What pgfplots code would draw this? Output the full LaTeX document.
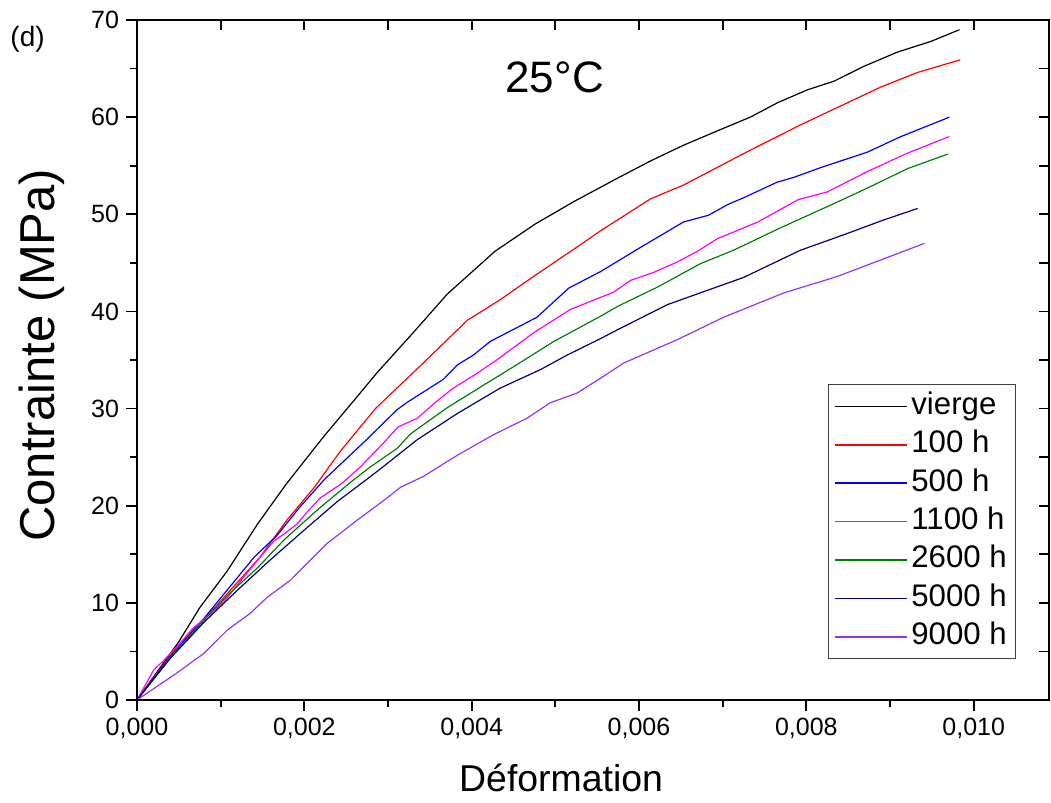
\documentclass[border=0pt]{standalone}
\usepackage{fontspec}
\setmainfont{Liberation Sans}
\usepackage{pgfplots}
\pgfplotsset{compat=1.18}
\usetikzlibrary{calc}

\definecolor{colvierge}{RGB}{0,0,0}
\definecolor{colcent}{RGB}{255,0,0}
\definecolor{colcinq}{RGB}{0,0,255}
\definecolor{colonze}{RGB}{255,0,255}
\definecolor{colvingt}{RGB}{0,128,0}
\definecolor{colmille}{RGB}{0,0,128}
\definecolor{colneuf}{RGB}{150,50,255}

\begin{document}
\begin{tikzpicture}
\begin{axis}[
  name=main,
  scale only axis,
  width=456pt, height=340pt,
  xmin=0, xmax=0.0109, ymin=0, ymax=70,
  xtick={0,0.002,0.004,0.006,0.008,0.010},
  ytick={0,10,20,30,40,50,60,70},
  minor x tick num=1, minor y tick num=1,
  tick align=outside,
  xtick pos=left, ytick pos=left,
  major tick length=5.5pt, minor tick length=3.5pt,
  every tick/.style={black, line width=0.9pt},
  axis line style={line width=1.2pt},
  scaled x ticks=false,
  /pgf/number format/assume math mode=true,
  xticklabel style={/pgf/number format/.cd, fixed, fixed zerofill, precision=3, use comma},
  yticklabel style={/pgf/number format/.cd, fixed, precision=0},
  tick label style={font=\fontsize{12.5}{15}\selectfont},
  xlabel={Déformation},
  ylabel={Contrainte (MPa)},
  xlabel style={font=\fontsize{18.7}{22}\selectfont, at={(axis description cs:0.465,-0.115)}, anchor=center},
  ylabel style={font=\fontsize{24.5}{28}\selectfont, at={(axis description cs:-0.104,0.507)}, anchor=center, rotate=0},
  legend style={at={(axis description cs:0.758,0.465)}, anchor=north west,
    draw=black!75, line width=0.6pt, font=\fontsize{15.6}{18}\selectfont,
    row sep=1.2pt, inner xsep=2.5pt, inner ysep=2pt,
    nodes={inner sep=2pt, text height=11pt, text depth=3pt}},
  legend cell align=left,
  legend image code/.code={\draw[#1, line width=0.75pt] (0pt,0pt) -- (36pt,0pt);},
  every axis plot/.append style={line width=0.6pt},
  clip=false,
]
\addplot[color=colvierge] coordinates {
(0,0) (0.0005,6.0) (0.00075,9.5) (0.00108,13.3) (0.00144,18.1) (0.00179,22.3)
(0.00223,27.1) (0.0026,30.9) (0.00287,33.7) (0.0033,37.8) (0.00371,41.8)
(0.00428,46.2) (0.00476,49.0) (0.00522,51.3) (0.00574,53.7) (0.00614,55.5)
(0.00653,57.1) (0.00694,58.6) (0.00733,60.0) (0.00766,61.5) (0.00801,62.8)
(0.00833,63.7) (0.00868,65.2) (0.00909,66.7) (0.00949,67.8) (0.00983,69.0)};
\addlegendentry{vierge}
\addplot[color=colcent] coordinates {
(0,0) (0.00048,5.5) (0.00096,9.8) (0.00147,14.7) (0.00179,18.5) (0.00212,21.9)
(0.00243,25.6) (0.00285,30.0) (0.00335,34.1) (0.00395,39.1) (0.00434,41.2)
(0.00474,43.6) (0.00534,47.1) (0.00554,48.3) (0.00614,51.6) (0.00653,53.0)
(0.00733,56.6) (0.00793,59.2) (0.00889,63.1) (0.00933,64.6) (0.00984,65.9)};
\addlegendentry{100 h}
\addplot[color=colcinq] coordinates {
(0,0) (0.0004,4.5) (0.0008,8.4) (0.0012,12.6) (0.0014,14.7) (0.00167,16.9)
(0.00195,19.9) (0.00224,22.7) (0.00272,26.6) (0.00311,29.9) (0.00324,30.7)
(0.00366,33.0) (0.00383,34.5) (0.00402,35.5) (0.00422,36.9) (0.00478,39.4)
(0.00516,42.4) (0.00554,44.1) (0.00602,46.6) (0.00653,49.2) (0.00683,49.9)
(0.00706,51.0) (0.00725,51.7) (0.00765,53.3) (0.00785,53.8) (0.00817,54.8)
(0.00873,56.4) (0.00913,58.0) (0.00971,60.0)};
\addlegendentry{500 h}
\addplot[color=colonze] coordinates {
(0,0) (0.0002,3.1) (0.0003,3.9) (0.00048,5.5) (0.00066,7.3) (0.00081,8.4)
(0.00104,10.1) (0.00128,12.7) (0.00147,14.7) (0.00164,16.4) (0.00176,17.1)
(0.00191,18.1) (0.00205,19.5) (0.00219,20.8) (0.00245,22.3) (0.00267,24.0)
(0.00294,26.4) (0.00312,28.1) (0.00335,29.0) (0.00356,30.6) (0.00378,32.1)
(0.00406,33.6) (0.0043,35.0) (0.00474,37.8) (0.00518,40.2) (0.0057,42.0)
(0.0059,43.2) (0.00617,44.0) (0.00646,45.1) (0.0067,46.2) (0.00694,47.5)
(0.00742,49.2) (0.0079,51.5) (0.00825,52.3) (0.00873,54.4) (0.00921,56.3)
(0.00971,58.0)};
\addlegendentry{1100 h}
\addplot[color=colvingt] coordinates {
(0,0) (0.0004,4.4) (0.0008,8.2) (0.00111,11.0) (0.00144,13.6) (0.00176,16.5)
(0.00216,19.6) (0.00255,22.4) (0.00279,24.0) (0.00311,25.9) (0.00327,27.4)
(0.00371,30.1) (0.00414,32.4) (0.0045,34.3) (0.00498,36.9) (0.00554,39.5)
(0.00574,40.5) (0.00622,42.5) (0.00673,44.9) (0.00713,46.3) (0.00769,48.6)
(0.00833,51.1) (0.00873,52.7) (0.00921,54.7) (0.00969,56.2)};
\addlegendentry{2600 h}
\addplot[color=colmille] coordinates {
(0,0) (0.0004,4.3) (0.0008,8.0) (0.0012,11.3) (0.00159,14.4) (0.002,17.5)
(0.00239,20.4) (0.00279,23.0) (0.00294,24.0) (0.00335,26.8) (0.00383,29.5)
(0.00434,32.1) (0.00482,34.0) (0.00514,35.5) (0.00554,37.2) (0.00574,38.1)
(0.00634,40.7) (0.00673,41.9) (0.00725,43.5) (0.00793,46.3) (0.00845,47.9)
(0.00892,49.4) (0.00933,50.6)};
\addlegendentry{5000 h}
\addplot[color=colneuf] coordinates {
(0,0) (0.00048,2.8) (0.0008,4.8) (0.00108,7.2) (0.00135,8.9) (0.00156,10.6)
(0.00183,12.3) (0.00227,16.1) (0.00263,18.5) (0.00299,20.8) (0.00315,21.9)
(0.00342,23.0) (0.00383,25.2) (0.00426,27.3) (0.00466,29.0) (0.00494,30.6)
(0.00526,31.6) (0.0055,32.9) (0.00582,34.7) (0.00646,37.1) (0.00701,39.4)
(0.00773,41.9) (0.00837,43.6) (0.00941,47.0)};
\addlegendentry{9000 h}
\node[font=\fontsize{22}{26}\selectfont] at (axis description cs:0.458,0.916) {25°C};
\node[font=\fontsize{14}{17}\selectfont] at (axis description cs:-0.12,0.971) {(d)};
\end{axis}
\begin{axis}[
  at={(main.south west)}, anchor=south west,
  scale only axis,
  width=456pt, height=340pt,
  xmin=0, xmax=0.0109, ymin=0, ymax=70,
  xtick={0,0.001,0.002,0.003,0.004,0.005,0.006,0.007,0.008,0.009,0.010},
  ytick={0,5,10,15,20,25,30,35,40,45,50,55,60,65,70},
  scaled x ticks=false, scaled y ticks=false,
  tick align=inside,
  xtick pos=right, ytick pos=right,
  major tick length=5pt,
  every tick/.style={black, line width=0.9pt},
  axis line style={line width=1.2pt},
  xticklabels={,,,,,,,,,,,},
  yticklabels={,,,,,,,,,,,,,,,},
]
\end{axis}
\pgfresetboundingbox
\path[use as bounding box] ($(main.south west)+(-68.5pt,-51.5pt)$) rectangle ($(main.north east)+(1pt,10pt)$);
\end{tikzpicture}
\end{document}
